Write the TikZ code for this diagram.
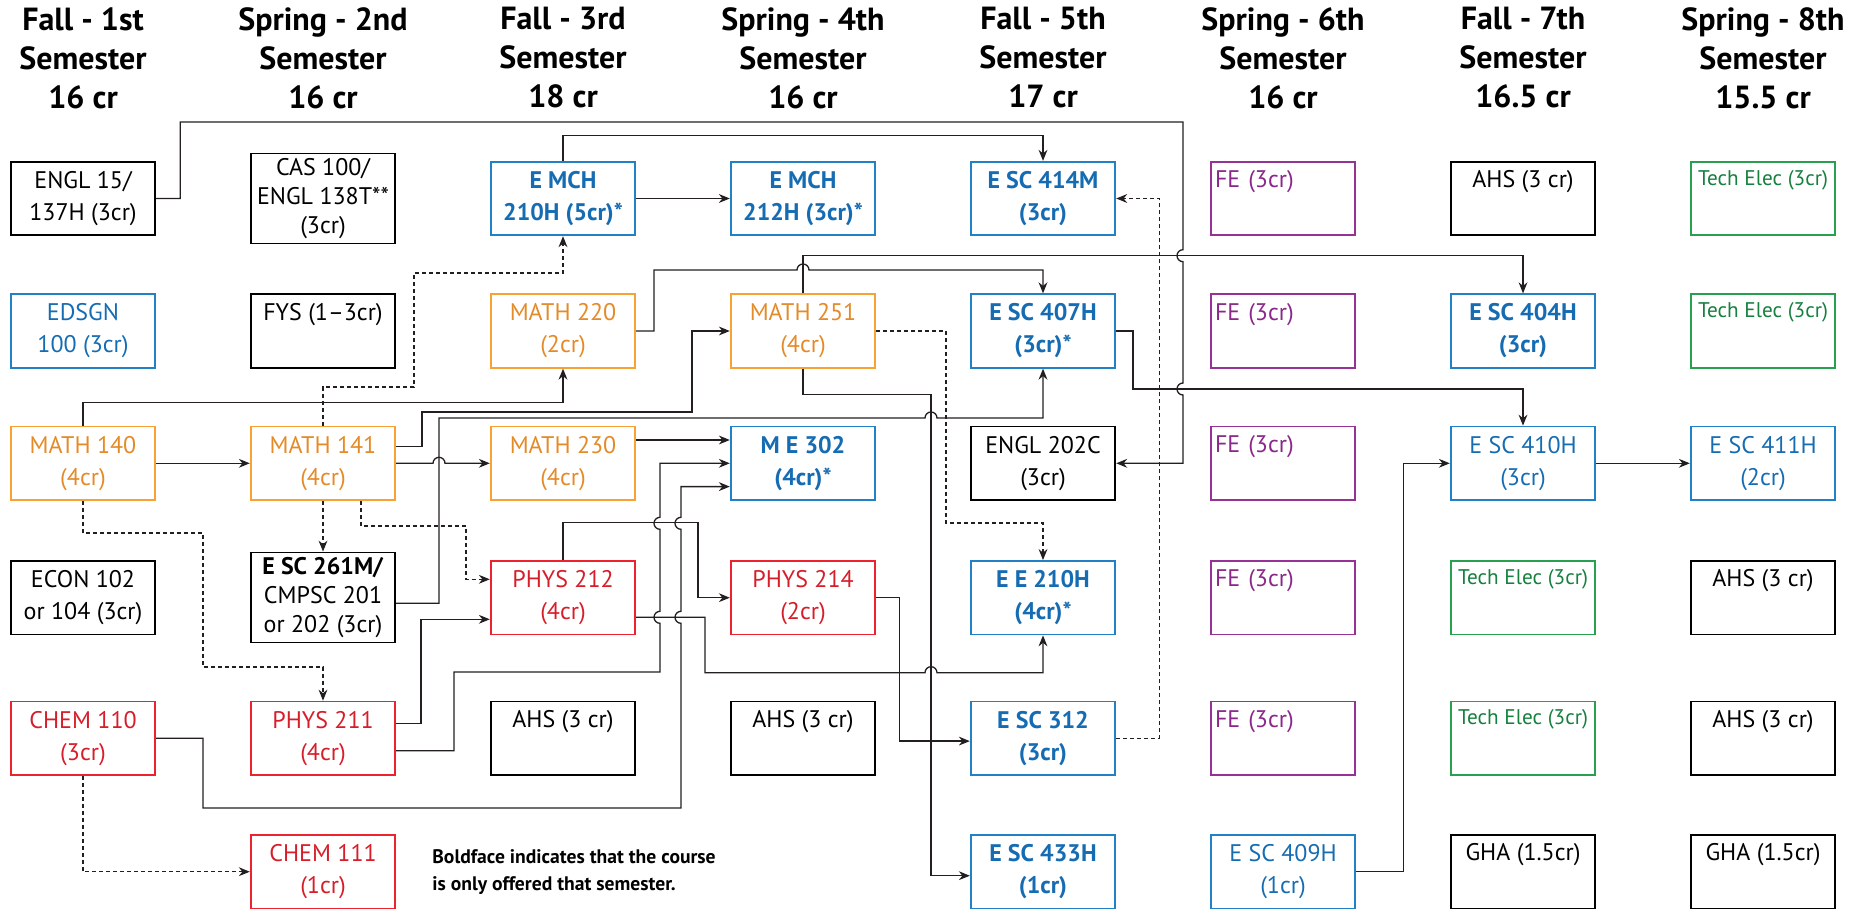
\documentclass[tikz,border=0pt]{standalone}
\usepackage{fontspec}
\setmainfont{PT Sans}
\usepackage{xcolor}
\usetikzlibrary{arrows.meta}

\definecolor{engrdraw}{RGB}{36,128,196}
\definecolor{engrtext}{RGB}{22,108,178}
\definecolor{mathdraw}{RGB}{247,162,52}
\definecolor{mathtext}{RGB}{228,138,40}
\definecolor{scidraw}{RGB}{236,34,46}
\definecolor{scitext}{RGB}{214,30,42}
\definecolor{fedraw}{RGB}{150,50,150}
\definecolor{fetext}{RGB}{138,40,138}
\definecolor{techdraw}{RGB}{40,160,80}
\definecolor{techtext}{RGB}{22,128,62}
\definecolor{wirecol}{RGB}{35,31,32}

\newcommand{\coursefont}{\fontsize{12}{16}\selectfont}
\newcommand{\tallfont}{\fontsize{12}{14.5}\selectfont}
\newcommand{\headfont}{\fontsize{16}{19.5}\selectfont\bfseries}

\begin{document}
\begin{tikzpicture}[
    x=0.5pt, y=-0.5pt,
    >={Stealth[length=5.5pt,width=4.4pt]},
    course/.style={draw, line width=0.9pt, minimum width=72.25pt, minimum height=36.75pt,
        inner sep=1pt, align=center, font=\coursefont},
    tall/.style={course, minimum height=45pt, font=\tallfont},
    toptext/.style={text height=13pt, text depth=23.75pt, inner ysep=0pt},
    engrbox/.style={course, draw=engrdraw, text=engrtext},
    mathbox/.style={course, draw=mathdraw, text=mathtext},
    scibox/.style={course, draw=scidraw, text=scitext},
    febox/.style={course, toptext, draw=fedraw, text=fetext, align=left,
        text width=68pt, inner xsep=2pt},
    techbox/.style={course, toptext, draw=techdraw, text=techtext,
        text height=11.7pt, text depth=25.05pt, font=\fontsize{10.6}{13}\selectfont},
    head/.style={anchor=north, align=center, inner sep=0pt, font=\headfont},
    prereq/.style={->, draw=wirecol, line width=0.65pt},
    coreq/.style={prereq, dash pattern=on 2pt off 1.5pt}
]
    \useasboundingbox (0,0) rectangle (1858,909);

    % Semester headings
    \node[head] (h1) at (83,7)   {Fall - 1st\\Semester\\16 cr};
    \node[head] (h2) at (323,7)  {Spring - 2nd\\Semester\\16 cr};
    \node[head] (h3) at (563,7)  {Fall - 3rd\\Semester\\18 cr};
    \node[head] (h4) at (803,7)  {Spring - 4th\\Semester\\16 cr};
    \node[head] (h5) at (1043,7) {Fall - 5th\\Semester\\17 cr};
    \node[head] (h6) at (1283,7) {Spring - 6th\\Semester\\16 cr};
    \node[head] (h7) at (1523,7) {Fall - 7th\\Semester\\16.5 cr};
    \node[head] (h8) at (1763,7) {Spring - 8th\\Semester\\15.5 cr};

    % 1st semester
    \node[course]  (engl15)  at (83,198.5) {ENGL 15/\\137H (3cr)};
    \node[engrbox] (edsgn)   at (83,331)   {EDSGN\\100 (3cr)};
    \node[mathbox] (math140) at (83,463.3) {MATH 140\\(4cr)};
    \node[course]  (econ)    at (83,597.7) {ECON 102\\or 104 (3cr)};
    \node[scibox]  (chem110) at (83,738.3) {CHEM 110\\(3cr)};

    % 2nd semester
    \node[tall]             (cas100)  at (323,198.5) {CAS 100/\\ENGL 138T**\\(3cr)};
    \node[course, toptext]  (fys)     at (323,331)   {FYS (1--3cr)};
    \node[mathbox]          (math141) at (323,463.3) {MATH 141\\(4cr)};
    \node[tall]             (esc261)  at (323,597.5) {\textbf{E SC 261M/}\\CMPSC 201\\or 202 (3cr)};
    \node[scibox]           (phys211) at (323,738.3) {PHYS 211\\(4cr)};
    \node[scibox]           (chem111) at (323,871.7) {CHEM 111\\(1cr)};

    % 3rd semester
    \node[engrbox, font=\coursefont\bfseries] (emch210) at (563,198.5) {E MCH\\210H (5cr)*};
    \node[mathbox]          (math220) at (563,331)   {MATH 220\\(2cr)};
    \node[mathbox]          (math230) at (563,463.3) {MATH 230\\(4cr)};
    \node[scibox]           (phys212) at (563,597.7) {PHYS 212\\(4cr)};
    \node[course, toptext]  (ahs3)    at (563,738.3) {AHS (3 cr)};

    % 4th semester
    \node[engrbox, font=\coursefont\bfseries] (emch212) at (803,198.5) {E MCH\\212H (3cr)*};
    \node[mathbox]          (math251) at (803,331)   {MATH 251\\(4cr)};
    \node[engrbox, font=\coursefont\bfseries] (me302) at (803,463.3) {M E 302\\(4cr)*};
    \node[scibox]           (phys214) at (803,597.7) {PHYS 214\\(2cr)};
    \node[course, toptext]  (ahs4)    at (803,738.3) {AHS (3 cr)};

    % 5th semester
    \node[engrbox, font=\coursefont\bfseries] (esc414) at (1043,198.5) {E SC 414M\\(3cr)};
    \node[engrbox, font=\coursefont\bfseries] (esc407) at (1043,331)   {E SC 407H\\(3cr)*};
    \node[course]           (engl202) at (1043,463.3) {ENGL 202C\\(3cr)};
    \node[engrbox, font=\coursefont\bfseries] (ee210)  at (1043,597.7) {E E 210H\\(4cr)*};
    \node[engrbox, font=\coursefont\bfseries] (esc312) at (1043,738.3) {E SC 312\\(3cr)};
    \node[engrbox, font=\coursefont\bfseries] (esc433) at (1043,871.7) {E SC 433H\\(1cr)};

    % 6th semester
    \foreach \r/\y in {1/198.5, 2/331, 3/463.3, 4/597.7, 5/738.3}
        \node[febox] (fe\r) at (1283,\y) {FE (3cr)};
    \node[engrbox]          (esc409)  at (1283,871.7) {E SC 409H\\(1cr)};

    % 7th semester
    \node[course, toptext]  (ahs7)    at (1523,198.5) {AHS (3 cr)};
    \node[engrbox, font=\coursefont\bfseries] (esc404) at (1523,331) {E SC 404H\\(3cr)};
    \node[engrbox]          (esc410)  at (1523,463.3) {E SC 410H\\(3cr)};
    \node[techbox]          (tech7a)  at (1523,597.7) {Tech Elec (3cr)};
    \node[techbox]          (tech7b)  at (1523,738.3) {Tech Elec (3cr)};
    \node[course, toptext]  (gha7)    at (1523,871.7) {GHA (1.5cr)};

    % 8th semester
    \node[techbox]          (tech8a)  at (1763,198.5) {Tech Elec (3cr)};
    \node[techbox]          (tech8b)  at (1763,331)   {Tech Elec (3cr)};
    \node[engrbox]          (esc411)  at (1763,463.3) {E SC 411H\\(2cr)};
    \node[course, toptext]  (ahs8a)   at (1763,597.7) {AHS (3 cr)};
    \node[course, toptext]  (ahs8b)   at (1763,738.3) {AHS (3 cr)};
    \node[course, toptext]  (gha8)    at (1763,871.7) {GHA (1.5cr)};

    \node[anchor=west, align=left, inner sep=0pt, font=\fontsize{9.8}{13.3}\selectfont\bfseries]
        (note) at (432,872) {Boldface indicates that the course\\is only offered that semester.};

    % prerequisites (solid) and concurrent courses (dashed)
    \draw[prereq] (engl15.east) -- ++(24,0) |- (1183,122) -- (1183,249.7)
        arc[start angle=270, end angle=90, radius=6] -- (1183,383)
        arc[start angle=270, end angle=90, radius=6] |- (engl202.east);
    \draw[prereq] (emch210) -- (emch212);
    \draw[prereq] (emch210.north) -- ++(0,-25) -| (esc414.north);
    \draw[coreq]  (esc312.east) -- ++(43,0) |- (esc414.east);
    \draw[coreq]  (math141.north) |- (414,387) |- (563,273) -- (emch210.south);
    \draw[prereq] (math140.north) -- ++(0,-23.5) -| (math220.south);
    \draw[prereq] (math140) -- (math141);
    \draw[coreq]  (math140.south) |- (203,533) |- (323,667) -- (phys211.north);
    \draw[coreq]  (math141) -- (esc261);
    \draw[coreq]  ([xshift=19pt]math141.south) |- (466,526) |- ([yshift=9.2pt]phys212.west);
    \draw[prereq] (math141) -- (433,463.3)
        arc[start angle=180, end angle=360, radius=6] -- (math230);
    \draw[prereq] ([yshift=8.3pt]math141.east) -| (422,412) -- (692,412) |- (math251.west);
    \draw[prereq] ([yshift=-2.9pt]esc261.east) -| (439,418) -- (925,418)
        arc[start angle=180, end angle=360, radius=6] -| (esc407.south);
    \draw[prereq] (math220.east) -| (654,270) -- (797,270)
        arc[start angle=180, end angle=360, radius=6] -| (esc407.north);
    \draw[prereq] (math251.north) -- ++(0,-38) -| (esc404.north);
    \draw[prereq] (esc407.east) -| (1133,389) -| (esc410.north);
    \draw[prereq] (math251.south) -- ++(0,25.5) -| (931,500) |- ([yshift=-2pt]esc433.west);
    \draw[coreq]  (math251.east) -| (946,523) -| (ee210.north);
    \draw[prereq] ([yshift=11.65pt]math230.east) -- ([yshift=11.65pt]me302.west);
    \draw[prereq] ([yshift=-6.2pt]phys211.east) -| (454,672) -- (660,672) -- (660,623.3)
        arc[start angle=90, end angle=270, radius=6] -- (660,529.3)
        arc[start angle=90, end angle=270, radius=6] |- (me302.west);
    \draw[prereq] ([yshift=7.5pt]phys211.east) -| (421,619.3) -- ([yshift=-10.8pt]phys212.west);
    \draw[prereq] (chem110.east) -| (203,808) -| (681,623.3)
        arc[start angle=90, end angle=270, radius=6] -- (681,529.3)
        arc[start angle=90, end angle=270, radius=6] |- ([yshift=-11.65pt]me302.west);
    \draw[prereq] (phys212.north) -- ++(0,-37.7) -| (698,560) |- (phys214.west);
    \draw[prereq] ([yshift=-9.8pt]phys212.east) -| (705,672.7) -- (925,672.7)
        arc[start angle=180, end angle=360, radius=6] -| (ee210.south);
    \draw[prereq] (phys214.east) -- ++(23,0) |- ([yshift=-1.4pt]esc312.west);
    \draw[coreq]  (chem110.south) |- (chem111.west);
    \draw[prereq] (esc409.east) -- ++(47,0) |- (esc410.west);
    \draw[prereq] (esc410) -- (esc411);
\end{tikzpicture}
\end{document}
